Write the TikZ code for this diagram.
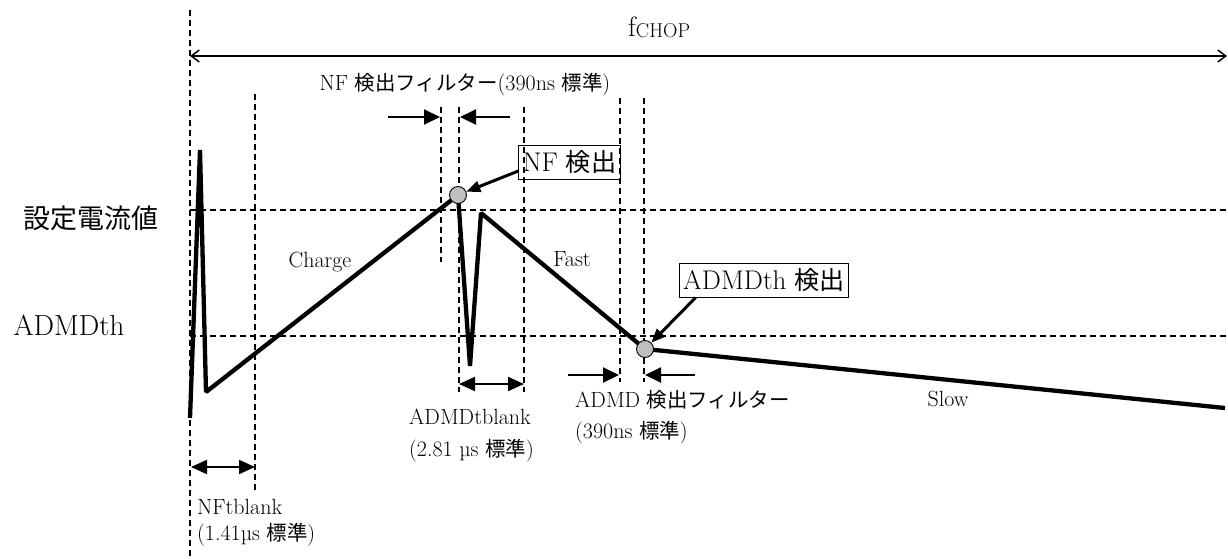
\documentclass[tikz,border=0pt]{standalone}
\usepackage{fontspec}
\newfontfamily\jp{Noto Sans CJK JP}[Scale=0.93]
\usetikzlibrary{arrows.meta}
\newcommand{\J}[1]{{\jp #1}}
\begin{document}
\begin{tikzpicture}[x=1pt,y=-1pt,
  guide/.style={dash pattern=on 6pt off 4pt, line width=1.1pt},
  wave/.style={line width=4.3pt, line join=bevel},
  dot/.style={circle, draw, line width=0.9pt, fill=black!25, minimum size=17pt, inner sep=0pt},
  ptr/.style={line width=3pt, -{Triangle[length=14pt,width=11pt]}},
  interval/.style={line width=2pt, {Triangle[length=16pt,width=14pt]}-{Triangle[length=16pt,width=14pt]}},
  push/.style={line width=2pt, -{Triangle[length=16pt,width=15pt]}},
  lbl/.style={font=\fontsize{22}{26}\selectfont, inner sep=0pt},
  big/.style={font=\fontsize{29}{32}\selectfont, inner sep=0pt},
  tag/.style={draw, line width=1pt, font=\fontsize{27}{30}\selectfont, inner xsep=4pt, inner ysep=3pt, minimum height=34pt},
  period/.style={line width=1.5pt, {Straight Barb[length=8pt,width=12pt]}-{Straight Barb[length=8pt,width=12pt]}}
]
\useasboundingbox (0,0) rectangle (1228,559);

% guide lines
\draw[guide] (190,10) -- (190,559);
\draw[guide] (190,210) -- (1228,210);
\draw[guide] (190,336) -- (1228,336);
\draw[guide] (255,94) -- (255,490);
\draw[guide] (441,107) -- (441,262);
\draw[guide] (459,107) -- (459,392);
\draw[guide] (524,107) -- (524,392);
\draw[guide] (620,98) -- (620,382);
\draw[guide] (644,98) -- (644,382);

% period
\coordinate (pL) at (190,56);
\coordinate (pR) at (1227,56);
\draw[period] (pL) -- (pR);
\node[anchor=base west, inner sep=0pt] (fc) at (628,37) {\fontsize{28}{30}\selectfont f\raisebox{-1pt}{\fontsize{20}{22}\selectfont CHOP}};

% waveform
\coordinate (w0) at (190,418);
\coordinate (w1) at (200,150);
\coordinate (w2) at (206,392);
\coordinate (p1) at (458,195);
\coordinate (w3) at (470,366);
\coordinate (w4) at (481,213);
\coordinate (p2) at (645,349);
\coordinate (w5) at (1225,408);
\draw[wave] (w0) -- (w1) -- (w2) -- (p1) -- (w3) -- (w4) -- (p2) -- (w5);
\node[dot] (c1) at (p1) {};
\node[dot] (c2) at (p2) {};

% level labels
\node[font=\fontsize{29}{32}\selectfont, inner sep=0pt] (set) at (91,218) {\J{設定電流値}};
\node[big, anchor=base] (adm) at (69,335) {ADMDth};

% segment labels
\node[lbl, anchor=base] (chg) at (320,267) {Charge};
\node[lbl, anchor=base] (fst) at (572,266) {Fast};
\node[lbl, anchor=base] (slw) at (948,406) {Slow};

% detection tags
\node[tag] (nfd) at (569.5,162) {NF \J{検出}};
\node[tag] (add) at (764,280) {ADMDth \J{検出}};
\draw[ptr] ([yshift=-9pt]nfd.west) -- (c1);
\draw[ptr] ([xshift=17pt]add.south west) -- (c2);

% NF filter
\coordinate (nfa) at (388,117);
\coordinate (nfb) at (440,117);
\coordinate (nfc) at (510,117);
\coordinate (nfd2) at (460,117);
\draw[push] (nfa) -- (nfb);
\draw[push] (nfc) -- (nfd2);
\node[lbl, anchor=base] (nff) at (465,91) {NF \J{検出フィルター}(390ns \J{標準})};

% ADMD filter
\coordinate (ada) at (568,375);
\coordinate (adb) at (619,375);
\coordinate (adc) at (695,375);
\coordinate (add2) at (645,375);
\draw[push] (ada) -- (adb);
\draw[push] (adc) -- (add2);
\node[lbl, anchor=base west] (adf1) at (575,407) {ADMD \J{検出フィルター}};
\node[lbl, anchor=base west] (adf2) at (575,438) {(390ns \J{標準})};

% ADMDtblank
\coordinate (ta) at (459,384);
\coordinate (tb) at (524,384);
\draw[interval] (ta) -- (tb);
\node[lbl, anchor=base west] (adt1) at (409,424) {ADMDtblank};
\node[lbl, anchor=base west] (adt2) at (409,456) {(2.81 µs \J{標準})};

% NFtblank
\coordinate (na) at (191,467);
\coordinate (nb) at (255,467);
\draw[interval] (na) -- (nb);
\node[lbl, anchor=base west] (nft1) at (197,514) {NFtblank};
\node[lbl, anchor=base west] (nft2) at (197,540) {(1.41µs \J{標準})};
\end{tikzpicture}
\end{document}
